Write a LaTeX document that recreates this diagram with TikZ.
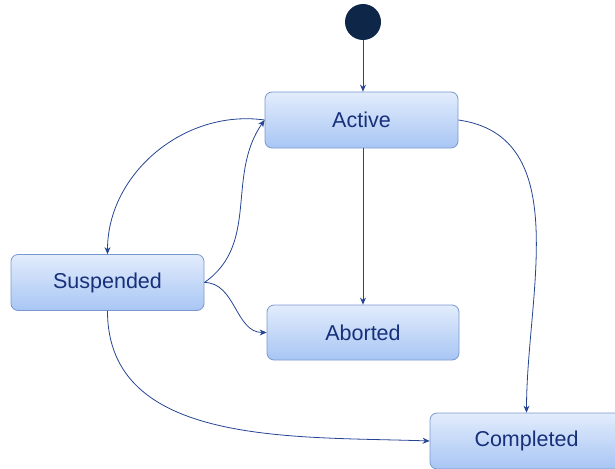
\documentclass[tikz,border=0pt]{standalone}
\usepackage{fontspec}
\setmainfont{Liberation Sans}
\usetikzlibrary{arrows.meta}

\definecolor{boxtop}{RGB}{226,236,252}
\definecolor{boxbottom}{RGB}{168,198,244}
\definecolor{boxline}{RGB}{122,152,205}
\definecolor{statetext}{RGB}{22,48,122}
\definecolor{flowline}{RGB}{38,68,148}
\definecolor{startdot}{RGB}{14,38,72}

\begin{document}
\begin{tikzpicture}[x=1pt,y=1pt,yscale=-1,
  state/.style={draw=boxline, line width=0.8pt, rounded corners=7pt,
    top color=boxtop, bottom color=boxbottom, text=statetext,
    minimum width=193pt, minimum height=56pt,
    font=\fontsize{21.5}{24}\selectfont},
  flow/.style={draw=flowline, line width=0.8pt, -{Stealth[length=7pt,width=6pt]}}]
\useasboundingbox (0,0) rectangle (615,468);

%Start point
\node [circle, fill=startdot, minimum size=36pt, inner sep=0pt] (start) at (363,22) {};

%States
\node [state] (active) at (361.5,120) {Active};
\node [state] (suspended) at (107.5,282.5) {Suspended};
\node [state, minimum width=192pt, minimum height=55pt] (aborted) at (363,332.5) {Aborted};
\node [state] (completed) at (526.5,441) {Completed};

%Transitions (y is flipped, so the angles are too)
\draw [flow] (start) -- (start |- active.north);
\draw [flow] (active.south -| aborted.north) -- (aborted.north);
\draw [flow] (active.east) to[out=8,in=-90] (completed.north);
\draw [flow] (active.west) to[out=-172,in=-90] (suspended.north);
\draw [flow] (suspended.east) to[out=-35,in=125] (active.west);
\draw [flow] (suspended.east) to[out=0,in=180] (aborted.west);
\draw [flow] (suspended.south) to[out=90,in=182] (completed.west);

\end{tikzpicture}
\end{document}
